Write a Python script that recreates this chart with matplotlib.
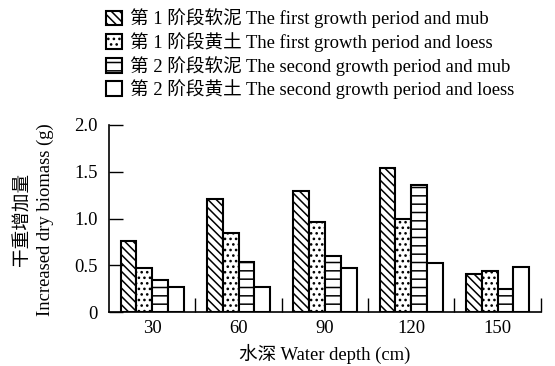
import matplotlib
matplotlib.use("Agg")
from matplotlib import pyplot as plt
from matplotlib.patches import Patch
import numpy as np

plt.rcParams['font.family'] = ['Liberation Serif', 'Noto Sans CJK SC']
plt.rcParams['hatch.linewidth'] = 1.1

# water depth groups (cm)
depths = ["30", "60", "90", "120", "150"]

# increased dry biomass (g) for each period / soil
p1_mud = [0.76, 1.21, 1.29, 1.54, 0.41]
p1_loess = [0.47, 0.84, 0.96, 0.99, 0.44]
p2_mud = [0.34, 0.54, 0.60, 1.36, 0.25]
p2_loess = [0.27, 0.27, 0.47, 0.52, 0.48]

series_names = [
    "第 1 阶段软泥 The first growth period and mub",
    "第 1 阶段黄土 The first growth period and loess",
    "第 2 阶段软泥 The second growth period and mub",
    "第 2 阶段黄土 The second growth period and loess",
]
hatches = ["\\\\\\\\", "...", "--", ""]

fs = 13.4
fig = plt.figure(figsize=(5.55, 3.66), dpi=100)
ax = fig.add_axes([0.1964, 0.1475, 0.778, 0.511])

x = np.arange(len(depths))
w = 0.183
all_series = [p1_mud, p1_loess, p2_mud, p2_loess]
for i, vals in enumerate(all_series):
    ax.bar(x + (i - 1.5) * w, vals, w, facecolor="white", edgecolor="black",
           linewidth=1.5, hatch=hatches[i])

ax.set_xlim(-0.5, 4.5)
ax.set_ylim(0, 2.0)

# group separators as inward ticks, labels at group centres
ax.set_xticks(np.arange(0.5, 5.0, 1.0))
ax.set_xticklabels([])
ax.tick_params(axis="x", which="major", direction="in", length=10, width=1)
ax.set_xticks(x, minor=True)
ax.set_xticklabels(depths, minor=True, fontsize=fs)
ax.tick_params(axis="x", which="minor", length=0, pad=6)

ax.set_yticks([0, 0.5, 1.0, 1.5, 2.0])
ax.set_yticklabels(["0", "0.5", "1.0", "1.5", "2.0"], fontsize=fs)
ax.tick_params(axis="y", direction="in", length=10, width=1, pad=8)

for s in ["top", "right"]:
    ax.spines[s].set_visible(False)
for s in ["left", "bottom"]:
    ax.spines[s].set_linewidth(1.2)

ax.set_xlabel("水深 Water depth (cm)", fontsize=fs, labelpad=5)
fig.text(0.042, 0.40, "干重增加量", rotation=90, ha="center", va="center", fontsize=fs)
fig.text(0.081, 0.40, "Increased dry biomass (g)", rotation=90, ha="center", va="center",
         fontsize=fs)

handles = [Patch(facecolor="white", edgecolor="black", linewidth=1.5, hatch=h) for h in hatches]
fig.legend(handles, series_names, loc="upper left", bbox_to_anchor=(0.168, 1.012),
           frameon=False, fontsize=fs, handlelength=0.85, handleheight=0.85,
           handletextpad=0.45, labelspacing=0.2, borderpad=0.2)

fig.savefig("out.png", dpi=100)
